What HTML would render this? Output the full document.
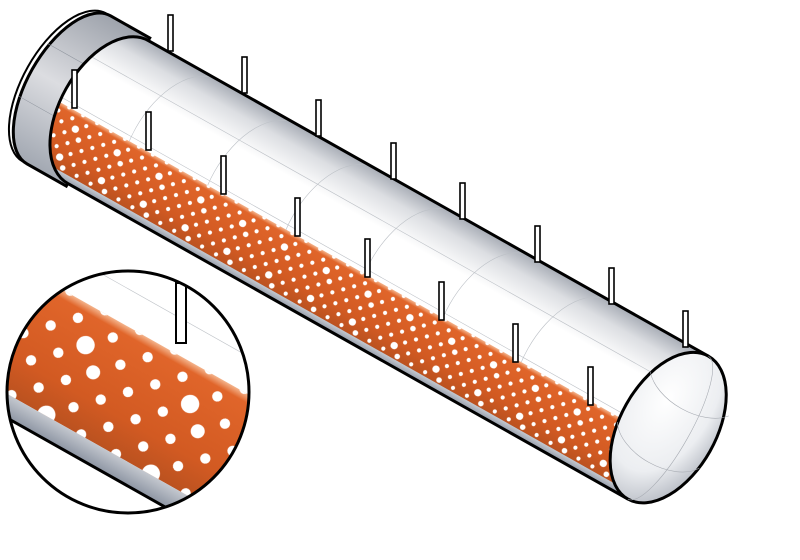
<!DOCTYPE html>
<html><head><meta charset="utf-8"><style>html,body{margin:0;padding:0;background:#fff}svg{display:block}</style></head>
<body>
<svg width="800" height="560" viewBox="0 0 800 560" xmlns="http://www.w3.org/2000/svg">
<defs>
  <linearGradient id="tubeG" x1="0" y1="-82" x2="0" y2="82" gradientUnits="userSpaceOnUse">
    <stop offset="0" stop-color="#a8adb6"/>
    <stop offset="0.12" stop-color="#dcdee2"/>
    <stop offset="0.3" stop-color="#ffffff"/>
    <stop offset="0.6" stop-color="#ffffff"/>
    <stop offset="1" stop-color="#9aa0ab"/>
  </linearGradient>
  <linearGradient id="collarG" x1="0" y1="-88" x2="0" y2="88" gradientUnits="userSpaceOnUse">
    <stop offset="0" stop-color="#9ca1aa"/>
    <stop offset="0.5" stop-color="#dcdde1"/>
    <stop offset="1" stop-color="#a0a6b0"/>
  </linearGradient>
  <linearGradient id="orG" x1="0" y1="0" x2="0" y2="1">
    <stop offset="0" stop-color="#f4b48c"/>
    <stop offset="0.07" stop-color="#e0652a"/>
    <stop offset="0.7" stop-color="#d25a22"/>
    <stop offset="1" stop-color="#bb5220"/>
  </linearGradient>
  <linearGradient id="greyG" x1="0" y1="0" x2="0" y2="1">
    <stop offset="0" stop-color="#c4c8cf"/>
    <stop offset="1" stop-color="#8d95a3"/>
  </linearGradient>
  <radialGradient id="capG" cx="0.35" cy="0.35" r="0.8">
    <stop offset="0" stop-color="#ffffff"/>
    <stop offset="0.6" stop-color="#eceef1"/>
    <stop offset="1" stop-color="#a9aeb8"/>
  </radialGradient>
  <pattern id="holes" width="60" height="40" patternUnits="userSpaceOnUse">
    <g fill="#fff">
      <circle cx="5" cy="5" r="2.6"/><circle cx="25" cy="5" r="2.6"/><circle cx="45" cy="5" r="2.6"/>
      <circle cx="15" cy="15" r="2.6"/><circle cx="35" cy="15" r="4.6"/><circle cx="55" cy="15" r="2.6"/>
      <circle cx="5" cy="25" r="2.6"/><circle cx="25" cy="25" r="2.6"/><circle cx="45" cy="25" r="3.5"/>
      <circle cx="15" cy="35" r="2.6"/><circle cx="35" cy="35" r="2.6"/><circle cx="55" cy="35" r="2.6"/>
    </g>
  </pattern>
  <pattern id="holesS" href="#holes" patternTransform="translate(0,19) scale(0.8)"/>
  <pattern id="holesB" href="#holes" patternTransform="translate(-10,-50) scale(2.0)"/>
  <clipPath id="tubeClip"><path d="M0,-82 L643,-82 A48,82 0 0 1 643,82 L0,82 A48,82 0 0 1 0,-82 Z"/></clipPath>
  <clipPath id="circClip"><circle cx="128" cy="392" r="121"/></clipPath>
</defs>

<g transform="translate(108,112) rotate(29.4)">
  <path d="M-45,-85 L0,-85 L0,85 L-45,85 A42,85 0 0 1 -45,-85 Z" fill="url(#collarG)" stroke="#000" stroke-width="3"/>
  <path d="M-45,85 A42,85 0 0 1 -45,-85" fill="none" stroke="#000" stroke-width="2" transform="translate(-5,0)"/>
  <line x1="-86" y1="-30" x2="0" y2="-30" stroke="#8d939c" stroke-width="0.5"/>
  <line x1="-86" y1="30" x2="0" y2="30" stroke="#8d939c" stroke-width="0.5"/>
  <path d="M0,-82 L643,-82 A48,82 0 0 1 643,82 L0,82 A48,82 0 0 1 0,-82 Z" fill="url(#tubeG)"/>
  <g clip-path="url(#tubeClip)">
    <g stroke="#bcc0c6" stroke-width="0.6" fill="none">
      <line x1="-50" y1="-40" x2="700" y2="-40"/>
      <line x1="-50" y1="10" x2="700" y2="10"/>
      <path d="M80,82 A48,82 0 0 1 80,-82"/>
      <path d="M170,82 A48,82 0 0 1 170,-82"/>
      <path d="M260,82 A48,82 0 0 1 260,-82"/>
      <path d="M350,82 A48,82 0 0 1 350,-82"/>
      <path d="M440,82 A48,82 0 0 1 440,-82"/>
      <path d="M530,82 A48,82 0 0 1 530,-82"/>
    </g>
    <rect x="-60" y="15" width="720" height="60" fill="url(#orG)"/>
    <rect x="-60" y="15" width="720" height="60" fill="url(#holesS)"/>
    <rect x="-60" y="75" width="720" height="8" fill="url(#greyG)"/>
  </g>
  <path d="M0,-82 L643,-82 M0,82 L643,82 M0,82 A48,82 0 0 1 0,-82" fill="none" stroke="#000" stroke-width="3"/>
  <ellipse cx="643" cy="0" rx="48" ry="82" fill="url(#capG)" stroke="#000" stroke-width="3"/>
  <g stroke="#a8acb3" stroke-width="0.6" fill="none">
    <path d="M643,-82 A22,82 0 0 1 643,82"/>
    <path d="M600,-40 A50,30 0 0 0 690,-40"/>
    <path d="M596,20 A50,30 0 0 0 690,20"/>
  </g>
</g>

<g fill="#fff" stroke="#000" stroke-width="1.6">
  <rect x="168" y="15" width="5" height="36"/>
  <rect x="242" y="57" width="5" height="36"/>
  <rect x="316" y="100" width="5" height="36"/>
  <rect x="391" y="143" width="5" height="36"/>
  <rect x="460" y="183" width="5" height="36"/>
  <rect x="535" y="226" width="5" height="36"/>
  <rect x="609" y="268" width="5" height="36"/>
  <rect x="683" y="311" width="5" height="36"/>
  <rect x="72" y="70" width="5" height="38"/>
  <rect x="146" y="112" width="5" height="38"/>
  <rect x="221" y="156" width="5" height="38"/>
  <rect x="295" y="198" width="5" height="38"/>
  <rect x="365" y="239" width="5" height="38"/>
  <rect x="439" y="282" width="5" height="38"/>
  <rect x="513" y="324" width="5" height="38"/>
  <rect x="588" y="367" width="5" height="38"/>
</g>

<circle cx="128" cy="392" r="121" fill="#fff"/>
<g clip-path="url(#circClip)">
  <g transform="translate(128,392) rotate(29.4)">
    <line x1="-200" y1="-90" x2="200" y2="-90" stroke="#c0c4c9" stroke-width="0.6"/>
    <rect x="-200" y="-57" width="400" height="118" fill="url(#orG)"/>
    <rect x="-200" y="-57" width="400" height="118" fill="url(#holesB)"/>
    <rect x="-200" y="61" width="400" height="21" fill="url(#greyG)"/>
    <line x1="-200" y1="82" x2="200" y2="82" stroke="#000" stroke-width="3"/>
  </g>
  <rect x="176" y="283" width="10" height="60" fill="#fff" stroke="#000" stroke-width="2"/>
</g>
<circle cx="128" cy="392" r="121" fill="none" stroke="#000" stroke-width="3"/>
</svg>
</body></html>
